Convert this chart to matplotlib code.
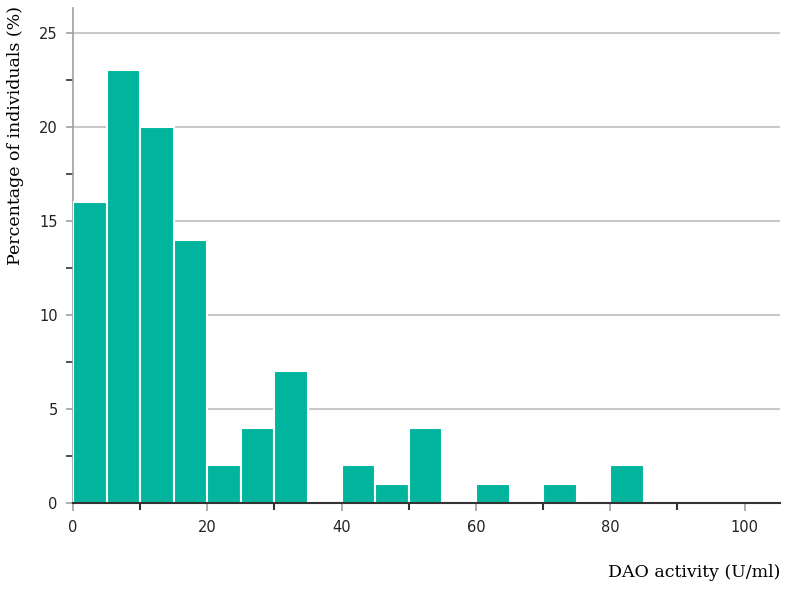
import numpy as np
import matplotlib
matplotlib.use("Agg")
from matplotlib import pyplot as plt
from matplotlib.ticker import MultipleLocator

# histogram data: bin edges (U/ml) and percentage in each bin
bin_edges = [0, 5, 10, 15, 20, 25, 30, 35, 40, 45, 50, 55, 60, 65, 70, 75, 80, 85]
percent = [16, 23, 20, 14, 2, 4, 7, 0, 2, 1, 4, 0, 1, 0, 1, 0, 2]

x_ticks = [0, 20, 40, 60, 80, 100]
y_ticks = [0, 5, 10, 15, 20, 25]

fig = plt.figure(figsize=(7.91, 5.89), dpi=100)
ax = fig.add_axes([0.0923, 0.146, 0.894, 0.84])

left = np.array(bin_edges[:-1])
width = np.diff(bin_edges)
ax.bar(left, percent, width=width, align='edge', color='#00b49d',
       edgecolor='white', linewidth=1.5, zorder=3)

ax.set_xlim(0, 105.3)
ax.set_ylim(0, 26.3)
ax.set_xticks(x_ticks)
ax.set_yticks(y_ticks)
ax.xaxis.set_minor_locator(MultipleLocator(10))
ax.yaxis.set_minor_locator(MultipleLocator(2.5))

ax.grid(axis='y', which='major', color='#c8c8c8', linewidth=1.5, zorder=0)

for s in ['top', 'right']:
    ax.spines[s].set_visible(False)
ax.spines['left'].set_color('#a0a0a0')
ax.spines['left'].set_linewidth(1.2)
ax.spines['bottom'].set_color('#333333')
ax.spines['bottom'].set_linewidth(1.5)
ax.spines['bottom'].set_zorder(5)

ax.tick_params(axis='x', which='major', length=6, color='#a0a0a0', width=1.2,
               labelsize=10.5, labelcolor='#222222', pad=6)
ax.tick_params(axis='x', which='minor', length=5, color='#333333', width=1.5)
ax.tick_params(axis='y', which='major', length=5, color='#a0a0a0', width=1.2,
               labelsize=10.5, labelcolor='#222222', pad=6)
ax.tick_params(axis='y', which='minor', length=5, color='#333333', width=1.2)

fig.text(0.02, 0.77, 'Percentage of individuals (%)', rotation=90,
         ha='center', va='center', fontsize=12.5, family='DejaVu Serif')
fig.text(0.986, 0.028, 'DAO activity (U/ml)', ha='right', va='center',
         fontsize=12.5, family='DejaVu Serif')

plt.savefig('out.png', dpi=100)
